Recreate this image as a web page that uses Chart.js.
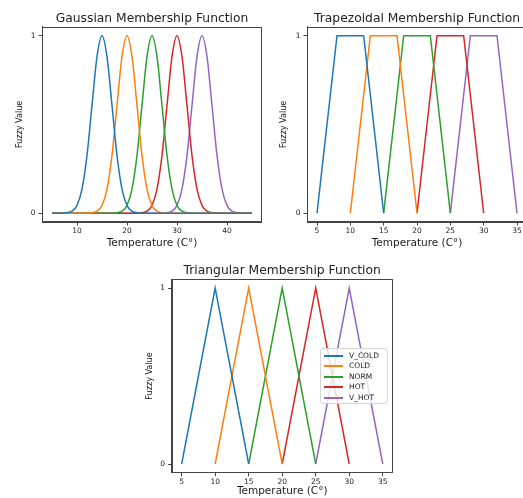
<!DOCTYPE html>
<html><head><meta charset="utf-8">
<script src="https://cdn.jsdelivr.net/npm/chart.js@4.4.1/dist/chart.umd.min.js"></script>
<style>
html,body{margin:0;padding:0;background:#fff;overflow:hidden;width:523px;height:498px;}
canvas{position:absolute;}
#legend{position:absolute;left:320px;top:348px;width:68px;height:56px;box-sizing:border-box;border:1px solid #d4d4d4;border-radius:3px;background:rgba(255,255,255,0.8);font-family:"DejaVu Sans";font-size:7.5px;color:#222;z-index:5;}
#legend .row{position:absolute;left:0;height:10px;width:66px;}
#legend .h{position:absolute;left:3px;top:5px;width:19px;height:2px;}
#legend .t{position:absolute;left:28px;top:0;line-height:11px;white-space:nowrap;}
</style></head><body>
<canvas id="c1" width="262" height="250" style="left:0;top:0"></canvas>
<canvas id="c2" width="270" height="250" style="left:262px;top:0"></canvas>
<canvas id="c3" width="270" height="248" style="left:130px;top:250px"></canvas>
<div id="legend"></div>
<script>
const seriesNames = ['V_COLD','COLD','NORM','HOT','V_HOT'];
const seriesColors = ['#1f77b4','#ff7f0e','#2ca02c','#d62728','#9467bd'];

const chartTitles = ['Gaussian Membership Function','Trapezoidal Membership Function','Triangular Membership Function'];
const xAxisTitle = 'Temperature (C°)';
const yAxisTitle = 'Fuzzy Value';

// Gaussian curves (sampled)
const gaussX = [5,6,7,8,9,10,11,12,13,14,15,16,17,18,19,20,21,22,23,24,25,26,27,28,29,30,31,32,33,34,35,36,37,38,39,40,41,42,43,44,45];
const gaussVCold = [0,0,0,0.002,0.011,0.044,0.135,0.325,0.607,0.882,1,0.882,0.607,0.325,0.135,0.044,0.011,0.002,0,0,0,0,0,0,0,0,0,0,0,0,0,0,0,0,0,0,0,0,0,0,0];
const gaussCold  = [0,0,0,0,0,0,0,0,0.002,0.011,0.044,0.135,0.325,0.607,0.882,1,0.882,0.607,0.325,0.135,0.044,0.011,0.002,0,0,0,0,0,0,0,0,0,0,0,0,0,0,0,0,0,0];
const gaussNorm  = [0,0,0,0,0,0,0,0,0,0,0,0,0,0.002,0.011,0.044,0.135,0.325,0.607,0.882,1,0.882,0.607,0.325,0.135,0.044,0.011,0.002,0,0,0,0,0,0,0,0,0,0,0,0,0];
const gaussHot   = [0,0,0,0,0,0,0,0,0,0,0,0,0,0,0,0,0,0,0.002,0.011,0.044,0.135,0.325,0.607,0.882,1,0.882,0.607,0.325,0.135,0.044,0.011,0.002,0,0,0,0,0,0,0,0];
const gaussVHot  = [0,0,0,0,0,0,0,0,0,0,0,0,0,0,0,0,0,0,0,0,0,0,0,0.002,0.011,0.044,0.135,0.325,0.607,0.882,1,0.882,0.607,0.325,0.135,0.044,0.011,0.002,0,0,0];

// Trapezoids
const trapVColdX = [5,8,12,15];
const trapColdX  = [10,13,17,20];
const trapNormX  = [15,18,22,25];
const trapHotX   = [20,23,27,30];
const trapVHotX  = [25,28,32,35];
const trapY = [0,1,1,0];

// Triangles
const triVColdX = [5,10,15];
const triColdX  = [10,15,20];
const triNormX  = [15,20,25];
const triHotX   = [20,25,30];
const triVHotX  = [25,30,35];
const triY = [0,1,0];

// Tick labels
const gaussXTicks = [10,20,30,40];
const trapXTicks = [5,10,15,20,25,30,35];
const triXTicks = [5,10,15,20,25,30,35];
const yTicks = [0,1];

const F = 'DejaVu Sans';
const toPts = (xs, ys) => xs.map((x,i)=>({x:x, y:ys[i]}));

function mkSets(xsList, ysList, smooth){
  return seriesNames.map((n,i)=>({
    label:n, data:toPts(xsList[i], ysList[i]),
    borderColor:seriesColors[i], backgroundColor:seriesColors[i],
    borderWidth:1.5, pointRadius:0, fill:false,
    cubicInterpolationMode: smooth ? 'monotone' : 'default', tension:0
  }));
}

const framePlugin = {
  id:'frame',
  afterDraw(chart, args, opts){
    const {ctx, chartArea:a} = chart;
    ctx.save();
    ctx.strokeStyle = '#444'; ctx.lineWidth = 1;
    ctx.strokeRect(Math.round(a.left)+0.5, Math.round(a.top)+0.5, Math.round(a.right-a.left)-1, Math.round(a.bottom-a.top)-1);
    ctx.fillStyle = '#222';
    ctx.font = '12.3px "DejaVu Sans"';
    ctx.textAlign = 'center'; ctx.textBaseline = 'middle';
    ctx.fillText(opts.text, (a.left+a.right)/2, opts.y);
    ctx.restore();
  }
};

function makeChart(id, datasets, c){
  return new Chart(document.getElementById(id), {
    type:'line',
    data:{datasets},
    options:{
      responsive:false, animation:false, devicePixelRatio:1,
      layout:{padding:{top:c.top, right:c.right, left:0, bottom:0}},
      plugins:{legend:{display:false}, tooltip:{enabled:false}, title:{display:false},
               frame:{text:c.title, y:c.titleY}},
      scales:{
        x:{type:'linear', min:c.xmin, max:c.xmax,
          afterBuildTicks:s=>{s.ticks=c.xticks.map(v=>({value:v}));},
          afterFit:s=>{s.height=c.xh;},
          ticks:{font:{family:F,size:7.5},color:'#222',padding:1,maxRotation:0,autoSkip:false},
          grid:{display:true,drawOnChartArea:false,drawTicks:true,tickLength:3.5,color:'#444'},
          border:{display:true,color:'#444',width:1},
          title:{display:true,text:xAxisTitle,font:{family:F,size:10.5},color:'#222',padding:{top:0,bottom:c.xtb}}
        },
        y:{type:'linear', min:-0.05, max:1.05,
          afterBuildTicks:s=>{s.ticks=yTicks.map(v=>({value:v}));},
          afterFit:s=>{s.width=c.yw;},
          ticks:{font:{family:F,size:7.5},color:'#222',padding:3,autoSkip:false,callback:v=>String(v)},
          grid:{display:true,drawOnChartArea:false,drawTicks:true,tickLength:3.5,color:'#444'},
          border:{display:true,color:'#444',width:1},
          title:{display:true,text:yAxisTitle,font:{family:'DejaVu Sans Condensed, DejaVu Sans',size:9},color:'#222',padding:{top:c.ytp,bottom:0}}
        }
      }
    },
    plugins:[framePlugin]
  });
}

makeChart('c1',
  mkSets([gaussX,gaussX,gaussX,gaussX,gaussX],[gaussVCold,gaussCold,gaussNorm,gaussHot,gaussVHot],true),
  {top:26.8,right:0,xh:28,yw:42,xmin:3,xmax:47,xticks:gaussXTicks,ytp:14,xtb:0.7,title:chartTitles[0],titleY:19.2});

makeChart('c2',
  mkSets([trapVColdX,trapColdX,trapNormX,trapHotX,trapVHotX],[trapY,trapY,trapY,trapY,trapY],false),
  {top:26.8,right:5,xh:28,yw:45,xmin:3.5,xmax:36.5,xticks:trapXTicks,ytp:16.6,xtb:0.7,title:chartTitles[1],titleY:19});

makeChart('c3',
  mkSets([triVColdX,triColdX,triNormX,triHotX,triVHotX],[triY,triY,triY,triY,triY],false),
  {top:29.2,right:7.2,xh:25.2,yw:41.6,xmin:3.5,xmax:36.5,xticks:triXTicks,ytp:14.6,xtb:0,title:chartTitles[2],titleY:20.7});

// Legend (HTML, built from series arrays)
const lg = document.getElementById('legend');
seriesNames.forEach((n,i)=>{
  const r = document.createElement('div'); r.className='row'; r.style.top=Math.round(1+i*10.4)+'px';
  const h = document.createElement('div'); h.className='h'; h.style.background=seriesColors[i];
  const t = document.createElement('div'); t.className='t'; t.textContent=n;
  r.appendChild(h); r.appendChild(t); lg.appendChild(r);
});
</script>
</body></html>
